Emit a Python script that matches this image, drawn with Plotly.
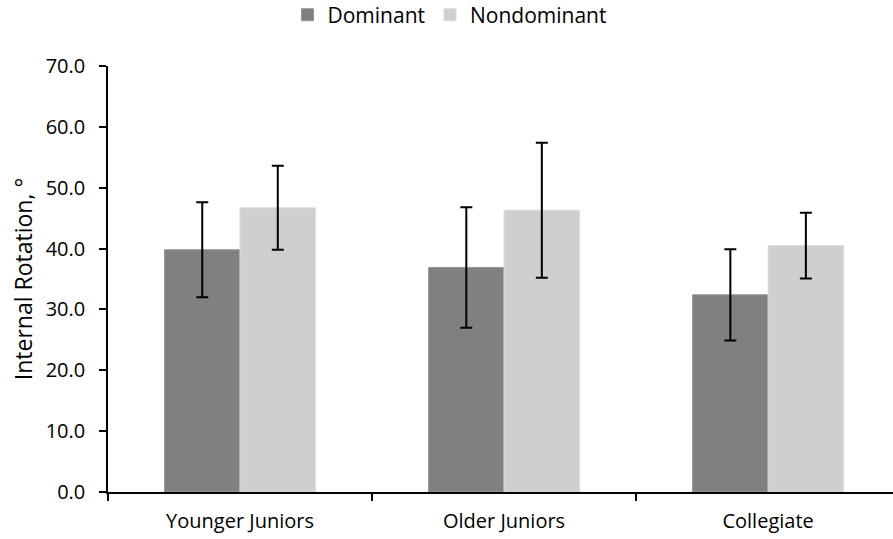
import plotly.graph_objects as go

categories = ["Younger Juniors", "Older Juniors", "Collegiate"]
dominant = [39.8, 36.9, 32.4]
dominant_sd = [7.8, 9.9, 7.5]
nondominant = [46.7, 46.3, 40.5]
nondominant_sd = [6.9, 11.1, 5.4]
y_ticks = [0, 10, 20, 30, 40, 50, 60, 70]

FONT = "Open Sans"

fig = go.Figure()
fig.add_trace(go.Bar(
    name="Dominant", x=categories, y=dominant,
    marker=dict(color="#808080", line=dict(color="#959595", width=1)),
    error_y=dict(type="data", array=dominant_sd, visible=True,
                 color="black", thickness=2, width=6),
))
fig.add_trace(go.Bar(
    name="Nondominant", x=categories, y=nondominant,
    marker=dict(color="#D0CFD0", line=dict(color="#DCDCDC", width=1)),
    error_y=dict(type="data", array=nondominant_sd, visible=True,
                 color="black", thickness=2, width=6),
))

fig.update_layout(
    width=893, height=539,
    margin=dict(l=108, r=0, t=66, b=47),
    paper_bgcolor="white", plot_bgcolor="white",
    barmode="group", bargap=0.428, bargroupgap=0,
    font=dict(family=FONT, size=20, color="black"),
    legend=dict(orientation="h", xref="paper", yref="container",
                x=0.435, xanchor="center", y=0.972, yanchor="middle",
                font=dict(size=21), itemwidth=30, tracegroupgap=0),
    xaxis=dict(
        range=[-0.5, 2.473],
        showline=True, linecolor="black", linewidth=2,
        ticks="outside", tickson="boundaries", ticklen=7, tickcolor="black", tickwidth=1.5,
        showgrid=False, zeroline=False,
        ticklabelstandoff=10,
        tickfont=dict(size=20),
    ),
    yaxis=dict(
        range=[0, 70], tickvals=y_ticks, tickformat=".1f",
        showline=True, linecolor="black", linewidth=1.5,
        ticks="outside", ticklen=7, tickcolor="black", tickwidth=1.5,
        showgrid=False, zeroline=False,
        ticklabelstandoff=10,
        tickfont=dict(size=20),
        title=dict(text="Internal Rotation, °", font=dict(size=23), standoff=7),
    ),
)

fig.write_html("out.html")
